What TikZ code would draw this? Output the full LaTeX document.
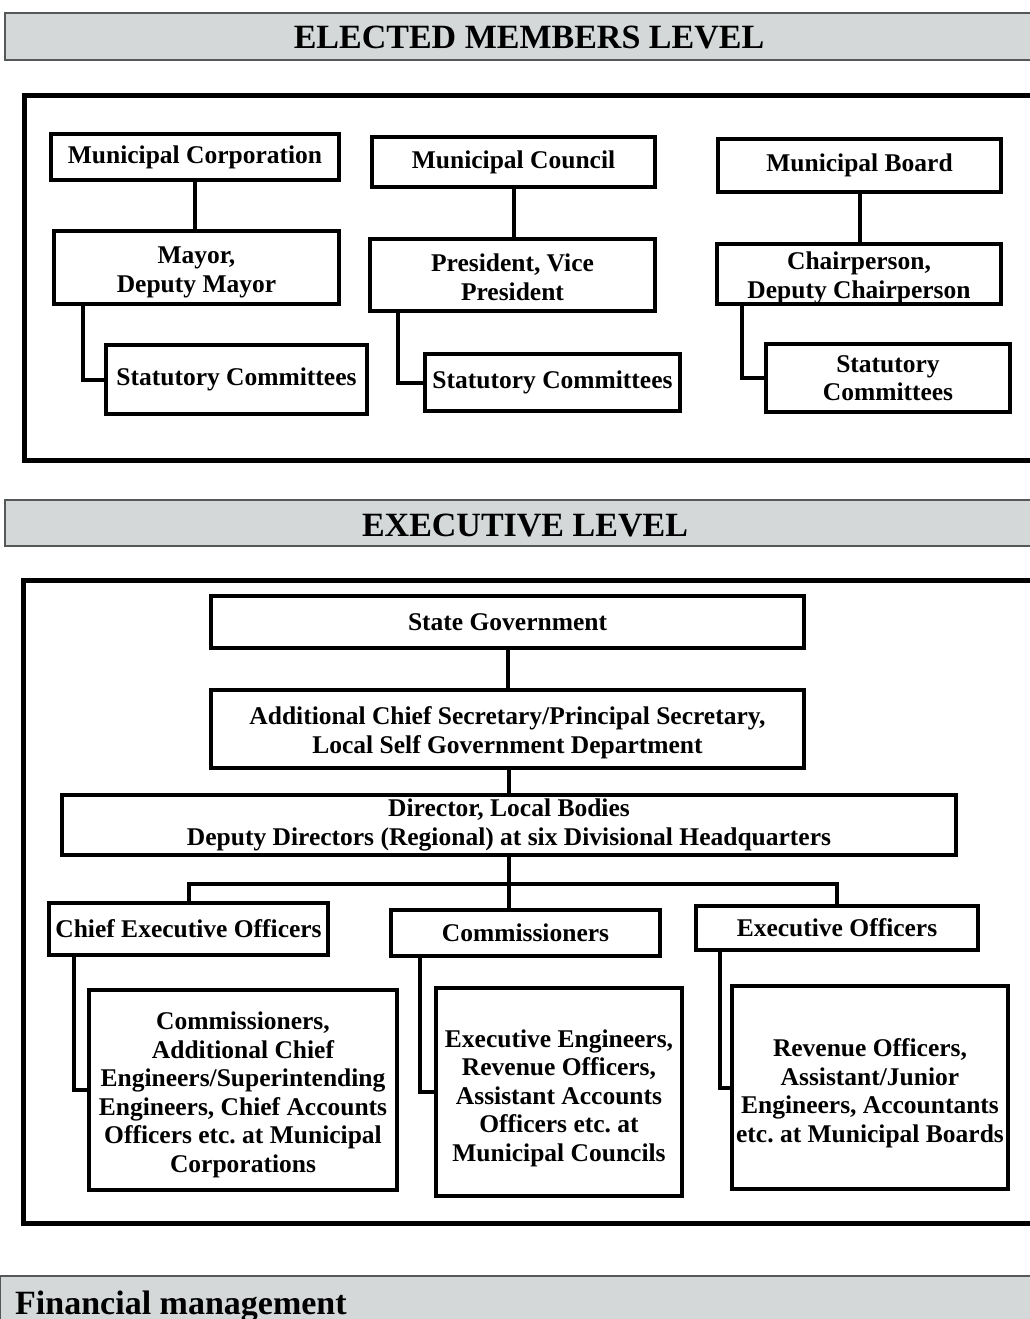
\documentclass[tikz,border=0pt]{standalone}
\usepackage{fontspec}
\setmainfont{Liberation Serif}
\usepackage{tikz}
\usetikzlibrary{backgrounds}
\frenchspacing
\pgfdeclarelayer{edgelayer}
\pgfdeclarelayer{nodelayer}
\pgfsetlayers{edgelayer,nodelayer,main}
\definecolor{bargray}{RGB}{212,216,216}
\definecolor{bardark}{RGB}{85,88,88}
\newcommand{\topgap}[1]{\rule{0pt}{#1pt}}
\tikzstyle{none}=[inner sep=0pt]
\tikzstyle{office}=[rectangle,draw=black,fill=white,line width=4.000,inner sep=0pt,align=center,font=\fontsize{25.5}{28.5}\selectfont\bfseries]
\tikzstyle{link}=[-,draw=black,line width=4.000]
\tikzstyle{frame}=[-,draw=black,line width=5.000]
\tikzstyle{bar}=[draw=bardark,fill=bargray,line width=2.000]
\tikzstyle{heading}=[inner sep=0pt,font=\fontsize{34}{36}\selectfont\bfseries]

\begin{document}
\begin{tikzpicture}[x=1pt,y=-1pt]
	\useasboundingbox (0,0) rectangle (1029,1319);
	\begin{pgfonlayer}{nodelayer}
		\node [style=heading] (elected) at (529, 38) {ELECTED MEMBERS LEVEL};
		\node [style=heading] (executive) at (525, 525) {EXECUTIVE LEVEL};
		\node [style=heading, anchor=base west] (finance) at (15, 1314) {Financial management};
		% elected members
		\node [style=office, minimum width=288, minimum height=46] (corp) at (195, 157) {Municipal Corporation};
		\node [style=office, minimum width=285, minimum height=73] (mayor) at (196.5, 267.5) {\topgap{27}Mayor,\\Deputy Mayor};
		\node [style=office, minimum width=261, minimum height=69] (stat1) at (236.5, 379.5) {Statutory Committees};
		\node [style=office, minimum width=283, minimum height=50] (council) at (513.5, 162) {Municipal Council};
		\node [style=office, minimum width=285, minimum height=72] (pres) at (512.5, 275) {\topgap{22.5}President, Vice\\President};
		\node [style=office, minimum width=255, minimum height=57] (stat2) at (552.5, 382.5) {Statutory Committees};
		\node [style=office, minimum width=283, minimum height=53] (board) at (859.5, 165.5) {Municipal Board};
		\node [style=office, minimum width=284, minimum height=58] (chair) at (859, 274) {\topgap{25.5}Chairperson,\\Deputy Chairperson};
		\node [style=office, minimum width=244, minimum height=68] (stat3) at (888, 378) {Statutory\\Committees};
		\node [style=none] (k1) at (83, 380) {};
		\node [style=none] (k2) at (398, 382) {};
		\node [style=none] (k3) at (742, 376) {};
		% executive
		\node [style=office, minimum width=593, minimum height=52] (state) at (507.5, 622) {State Government};
		\node [style=office, minimum width=593, minimum height=78] (acs) at (507.5, 729) {\topgap{25.5}Additional Chief Secretary/Principal Secretary,\\Local Self Government Department};
		\node [style=office, minimum width=894, minimum height=60] (dir) at (509, 825) {Director, Local Bodies\\Deputy Directors (Regional) at six Divisional Headquarters};
		\node [style=office, minimum width=279, minimum height=52] (ceo) at (188.5, 929) {Chief Executive Officers};
		\node [style=office, minimum width=269, minimum height=46] (comm) at (525.5, 933) {Commissioners};
		\node [style=office, minimum width=282, minimum height=44] (eo) at (837, 928) {Executive Officers};
		\node [style=office, minimum width=308, minimum height=200] (corpstaff) at (243, 1090) {\topgap{27.5}Commissioners,\\Additional Chief\\Engineers/Superintending\\Engineers, Chief Accounts\\Officers etc. at Municipal\\Corporations};
		\node [style=office, minimum width=246, minimum height=208] (councilstaff) at (559, 1092) {\topgap{29.5}Executive Engineers,\\Revenue Officers,\\Assistant Accounts\\Officers etc. at\\Municipal Councils};
		\node [style=office, minimum width=276, minimum height=203] (boardstaff) at (870, 1087.5) {\topgap{29.5}Revenue Officers,\\Assistant/Junior\\Engineers, Accountants\\etc. at Municipal Boards};
		\node [style=none] (hub) at (509, 884) {};
		\node [style=none] (e1) at (74, 1089) {};
		\node [style=none] (e2) at (420, 1089) {};
		\node [style=none] (e3) at (720, 1087) {};
	\end{pgfonlayer}
	\begin{pgfonlayer}{edgelayer}
		\draw [style=bar] (5, 13) rectangle (1040, 60);
		\draw [style=bar] (5, 500) rectangle (1040, 546);
		\draw [style=bar] (0, 1276) rectangle (1040, 1330);
		\draw [style=frame] (24, 96) rectangle (1045, 460);
		\draw [style=frame] (23, 580) rectangle (1045, 1223);
		\draw [style=link] (corp.south) to (corp.south |- mayor.north);
		\draw [style=link] (council.south) to (council.south |- pres.north);
		\draw [style=link] (board.south) to (board.south |- chair.north);
		\draw [style=link] (mayor.south -| k1) |- (stat1.west);
		\draw [style=link] (pres.south -| k2) |- (stat2.west);
		\draw [style=link] (chair.south -| k3) |- (stat3.west);
		\draw [style=link] (state.south) to (state.south |- acs.north);
		\draw [style=link] (acs.south -| dir.north) to (dir.north);
		\draw [style=link] (dir.south) to (dir.south |- comm.north);
		\draw [style=link] (ceo.north) -- (ceo.north |- hub.center) -- (eo.north |- hub.center) -- (eo.north);
		\draw [style=link] (ceo.south -| e1) |- (corpstaff.west);
		\draw [style=link] (comm.south -| e2) |- (councilstaff.west);
		\draw [style=link] (eo.south -| e3) |- (boardstaff.west);
	\end{pgfonlayer}
\end{tikzpicture}
\end{document}
